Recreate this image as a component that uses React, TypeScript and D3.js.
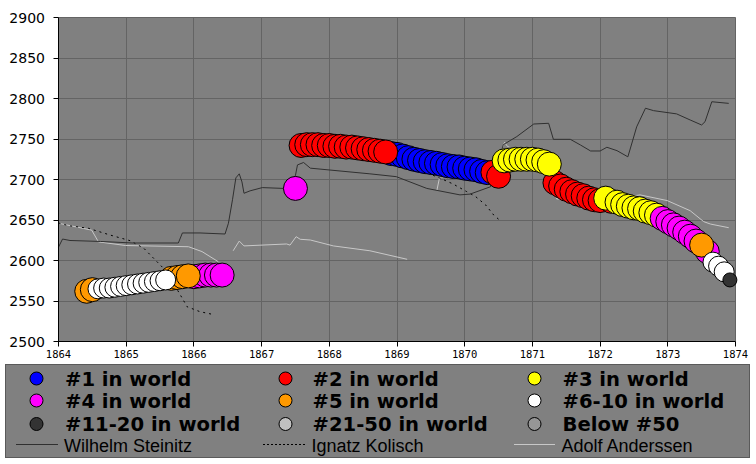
import React from "react";
import * as d3 from "d3";

// ---------- data ----------
const yearTicks = [1864, 1865, 1866, 1867, 1868, 1869, 1870, 1871, 1872, 1873, 1874];
const eloTicks = [2500, 2550, 2600, 2650, 2700, 2750, 2800, 2850, 2900];

const rankCategories = [
  "#1 in world", "#2 in world", "#3 in world",
  "#4 in world", "#5 in world", "#6-10 in world",
  "#11-20 in world", "#21-50 in world", "Below #50",
];

// Steinitz rating markers: date, rating, rank category index
const markerDates = [
  1864.417, 1864.5,
  1864.583, 1864.667, 1864.75, 1864.833, 1864.917, 1865.0, 1865.083, 1865.167, 1865.25, 1865.333, 1865.417, 1865.5, 1865.583,
  1865.667, 1865.75, 1865.833, 1865.917,
  1866.0, 1866.083, 1866.167, 1866.25, 1866.333, 1866.417,
  1867.5,
  1867.583, 1867.667, 1867.75, 1867.833, 1867.917, 1868.0, 1868.083, 1868.167, 1868.25, 1868.333, 1868.417, 1868.5, 1868.583, 1868.667, 1868.75, 1868.833,
  1868.917, 1869.0, 1869.083, 1869.167, 1869.25, 1869.333, 1869.417, 1869.5, 1869.583, 1869.667, 1869.75, 1869.833, 1869.917, 1870.0, 1870.083, 1870.167, 1870.25, 1870.333,
  1870.417, 1870.5,
  1870.583, 1870.667, 1870.75, 1870.833, 1870.917, 1871.0, 1871.083, 1871.167, 1871.25,
  1871.333, 1871.417, 1871.5, 1871.583, 1871.667, 1871.75, 1871.833, 1871.917, 1872.0,
  1872.083, 1872.167,
  1872.25, 1872.333, 1872.417, 1872.5, 1872.583, 1872.667, 1872.75, 1872.833,
  1872.917, 1873.0, 1873.083, 1873.167, 1873.25, 1873.333, 1873.417,
  1873.5, 1873.583,
  1873.667, 1873.75, 1873.833,
  1873.917,
];
const markerElo = [
  2562, 2564,
  2565, 2566, 2566, 2567, 2568, 2569, 2570, 2571, 2572, 2573, 2574, 2575, 2576,
  2578, 2579, 2580, 2581,
  2580, 2581, 2582, 2582, 2582, 2582,
  2689,
  2742, 2743, 2743, 2743, 2742, 2742, 2741, 2741, 2740, 2740, 2739, 2738, 2737, 2736, 2735, 2734,
  2732, 2731, 2729, 2727, 2725, 2723.5, 2722, 2721, 2720, 2718.5, 2717, 2716, 2715.5, 2714, 2713, 2712, 2710, 2708.5,
  2709, 2704,
  2723, 2724, 2725, 2725, 2725, 2725, 2724, 2722, 2719,
  2696, 2692, 2688, 2685, 2682, 2680, 2677, 2675, 2674,
  2677, 2673,
  2672, 2669, 2667, 2665, 2664, 2661, 2659, 2656,
  2652, 2648, 2644, 2640, 2635, 2630, 2624,
  2619, 2611,
  2598, 2593, 2586,
  2576,
];
const markerRank = [
  4, 4,
  5, 5, 5, 5, 5, 5, 5, 5, 5, 5, 5, 5, 5,
  4, 4, 4, 4,
  3, 3, 3, 3, 3, 3,
  3,
  1, 1, 1, 1, 1, 1, 1, 1, 1, 1, 1, 1, 1, 1, 1, 1,
  0, 0, 0, 0, 0, 0, 0, 0, 0, 0, 0, 0, 0, 0, 0, 0, 0, 0,
  1, 1,
  2, 2, 2, 2, 2, 2, 2, 2, 2,
  1, 1, 1, 1, 1, 1, 1, 1, 1,
  2, 1,
  2, 2, 2, 2, 2, 2, 2, 2,
  3, 3, 3, 3, 3, 3, 3,
  4, 3,
  5, 5, 5,
  6,
];

type Pt = [number, number] | null;

const steinitz: Pt[] = [
  [1864.0, 2616.5], [1864.06, 2626.5], [1864.17, 2624.7], [1864.62, 2623.5], [1865.1, 2621.6],
  [1865.77, 2621.6], [1865.83, 2634], [1866.09, 2634], [1866.46, 2632.7], [1866.51, 2646],
  [1866.57, 2675], [1866.62, 2702], [1866.67, 2707], [1866.71, 2697], [1866.74, 2683],
  [1866.83, 2686], [1867.01, 2690], [1867.32, 2689], [1867.47, 2689.5], [1867.5, 2705],
  [1867.53, 2718], [1867.62, 2721], [1867.72, 2714], [1868.6, 2707], [1868.99, 2703.5],
  [1869.44, 2689], [1869.93, 2681], [1870.08, 2682], [1870.38, 2691], [1870.57, 2743],
  [1870.77, 2753], [1871.02, 2768.5], [1871.24, 2769.4], [1871.31, 2749.6], [1871.56, 2749.6],
  [1871.71, 2742.6], [1871.86, 2735.2], [1872.0, 2735.2], [1872.1, 2739.8], [1872.25, 2735.6],
  [1872.41, 2728], [1872.44, 2736.4], [1872.54, 2765], [1872.67, 2788], [1872.79, 2785],
  [1873.13, 2781], [1873.33, 2773.5], [1873.5, 2767.3], [1873.55, 2771.4], [1873.65, 2796],
  [1873.9, 2794],
];

const kolisch: Pt[] = [
  [1864.0, 2646.3], [1864.15, 2643], [1864.44, 2639.8], [1864.76, 2631.5], [1865.06, 2624.4],
  [1865.26, 2615.1], [1865.43, 2600.6], [1865.6, 2586.2], [1865.8, 2557.4], [1865.9, 2542.9],
  [1866.09, 2536.8], [1866.27, 2533.6],
  null,
  [1869.45, 2708], [1869.64, 2701.5], [1869.83, 2694.4], [1870.03, 2685], [1870.16, 2679],
  [1870.31, 2668.5], [1870.43, 2656], [1870.5, 2651],
];

const anderssen: Pt[] = [
  [1864.0, 2646], [1864.49, 2637.5], [1864.59, 2623], [1864.99, 2618.5], [1865.92, 2617],
  [1866.12, 2611], [1866.36, 2598.5],
  null,
  [1866.58, 2612], [1866.67, 2624], [1866.74, 2618], [1867.37, 2620.4], [1867.42, 2619],
  [1867.51, 2629.4], [1867.57, 2626.2], [1867.72, 2625.3], [1868.06, 2618], [1868.6, 2612],
  [1869.15, 2601.5],
  null,
  [1869.59, 2687], [1869.63, 2703], [1869.9, 2706], [1870.3, 2712], [1870.55, 2738],
  [1870.59, 2746], [1870.63, 2741], [1870.9, 2730], [1871.2, 2716], [1871.31, 2683],
  [1871.36, 2676], [1871.45, 2676], [1871.8, 2672], [1872.2, 2676], [1872.59, 2681],
  [1872.99, 2674], [1873.33, 2661.5], [1873.53, 2648], [1873.63, 2645], [1873.9, 2640.5],
];

const playerNames = ["Wilhelm Steinitz", "Ignatz Kolisch", "Adolf Anderssen"];

// ---------- styles ----------
const rankColors = ["#0000ff", "#ff0000", "#ffff00", "#ff00ff", "#ff9900", "#ffffff", "#333333", "#c0c0c0", "#969696"];
const rankRadius = [12, 12, 12, 12, 12, 10, 7, 7, 7];

const W = 756;
const H = 464;

export default function App() {
  const x = d3.scaleLinear().domain([1864, 1874]).range([58.5, 735.5]);
  const y = d3.scaleLinear().domain([2500, 2900]).range([341.5, 17.5]);
  const snap = (v: number) => Math.round(v - 0.5) + 0.5;

  const line = d3
    .line<Pt>()
    .defined((d) => d != null)
    .x((d) => x((d as [number, number])[0]))
    .y((d) => y((d as [number, number])[1]));

  const order: number[] = [];
  for (let c = 0; c < rankCategories.length; c++) {
    markerDates.forEach((_, i) => {
      if (markerRank[i] === c) order.push(i);
    });
  }

  const x0 = snap(x(1864));
  const x1 = snap(x(1874));
  const yTop = snap(y(2900));
  const yBot = snap(y(2500));

  const legendCols = [36.5, 285.5, 534.5];
  const legendTextX = [65, 312.5, 562.5];
  const legendRows = [378.5, 400.5, 424];
  const legendBase = [385.5, 408, 431];

  return (
    <svg
      width={W}
      height={H}
      style={{ position: "absolute", left: 0, top: 0, background: "#ffffff" }}
    >
      {/* plot background */}
      <rect x={x0} y={yTop} width={x1 - x0} height={yBot - yTop} fill="#808080" />
      {/* grid */}
      {yearTicks.slice(1).map((t) => (
        <line key={"gx" + t} x1={snap(x(t))} x2={snap(x(t))} y1={yTop} y2={yBot} stroke="#646464" strokeWidth={1} />
      ))}
      {eloTicks.slice(1).map((e) => (
        <line key={"gy" + e} x1={x0} x2={x1} y1={snap(y(e))} y2={snap(y(e))} stroke="#646464" strokeWidth={1} />
      ))}

      {/* player lines */}
      <path d={line(anderssen) || ""} fill="none" stroke="#c8c8c8" strokeWidth={1} />
      <path d={line(kolisch) || ""} fill="none" stroke="#000000" strokeWidth={1} strokeDasharray="2,4" />
      <path d={line(steinitz) || ""} fill="none" stroke="#303030" strokeWidth={1} />

      {/* markers */}
      {order.map((i) => (
        <circle
          key={"m" + i}
          cx={x(markerDates[i])}
          cy={y(markerElo[i])}
          r={rankRadius[markerRank[i]]}
          fill={rankColors[markerRank[i]]}
          stroke="#000"
          strokeWidth={1}
        />
      ))}

      {/* axes */}
      <line x1={x0} x2={x0} y1={yTop} y2={yBot + 0.5} stroke="#000" strokeWidth={1} />
      <line x1={x0} x2={x1} y1={yBot} y2={yBot} stroke="#000" strokeWidth={1} />
      {eloTicks.map((e) => (
        <g key={"ty" + e}>
          <line x1={x0 - 5} x2={x0} y1={snap(y(e))} y2={snap(y(e))} stroke="#000" strokeWidth={1} />
          <text
            x={45}
            y={y(e) + 5}
            textAnchor="end"
            fontFamily="'DejaVu Sans', sans-serif"
            fontSize={14}
            fill="#000"
          >
            {e}
          </text>
        </g>
      ))}
      {yearTicks.map((t) => (
        <g key={"tx" + t}>
          <line x1={snap(x(t))} x2={snap(x(t))} y1={yBot} y2={yBot + 5} stroke="#000" strokeWidth={1} />
          <text
            x={x(t)}
            y={358}
            textAnchor="middle"
            fontFamily="'DejaVu Sans Mono', monospace"
            fontSize={10.5}
            fill="#000"
          >
            {t}
          </text>
        </g>
      ))}

      {/* legend */}
      <rect x={5.5} y={364.5} width={744} height={93} fill="#808080" stroke="#5a5a5a" strokeWidth={1} />
      {rankCategories.map((label, i) => {
        const col = i % 3;
        const row = Math.floor(i / 3);
        return (
          <g key={"lg" + i}>
            <circle cx={legendCols[col]} cy={legendRows[row]} r={6.5} fill={rankColors[i]} stroke="#000" strokeWidth={1} />
            <text
              x={legendTextX[col]}
              y={legendBase[row]}
              fontFamily="'DejaVu Sans', sans-serif"
              fontWeight="bold"
              fontSize={19.6}
              fill="#000"
            >
              {label}
            </text>
          </g>
        );
      })}
      <line x1={16} x2={58} y1={444.5} y2={444.5} stroke="#303030" strokeWidth={1} />
      <line x1={263} x2={306} y1={444.5} y2={444.5} stroke="#000" strokeWidth={1} strokeDasharray="2,2" />
      <line x1={514} x2={555} y1={444.5} y2={444.5} stroke="#c8c8c8" strokeWidth={1} />
      {playerNames.map((n, i) => (
        <text
          key={"pn" + i}
          x={[64, 311.5, 561.5][i]}
          y={451.7}
          fontFamily="'Liberation Sans', Arial, sans-serif"
          fontSize={18}
          fill="#000"
        >
          {n}
        </text>
      ))}
    </svg>
  );
}
